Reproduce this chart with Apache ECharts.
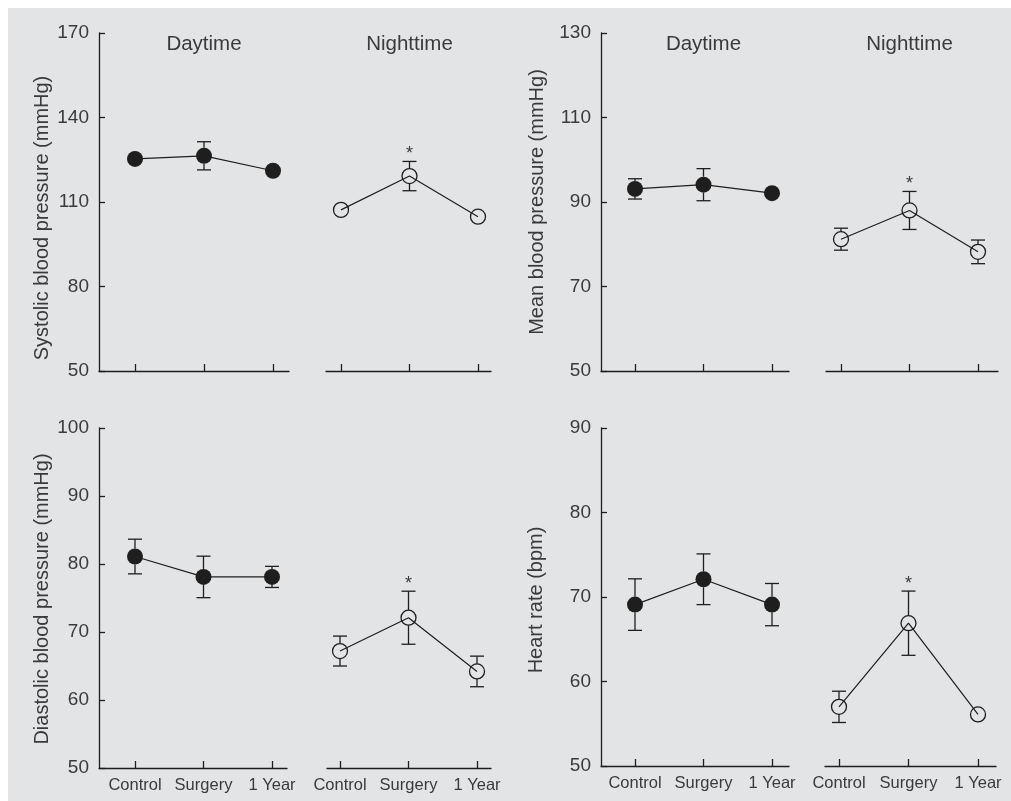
<!DOCTYPE html>
<html>
<head>
<meta charset="utf-8">
<script src="https://cdn.jsdelivr.net/npm/echarts@6/dist/echarts.min.js"></script>
<style>
html,body{margin:0;padding:0;background:#fff;}
#chart{width:1011px;height:801px;}
</style>
</head>
<body>
<div id="chart"></div>
<script>
// ---------------- DATA ----------------
const categories = ['Control', 'Surgery', '1 Year'];
const periodTitles = ['Daytime', 'Nighttime'];

const sysTicks = [50, 80, 110, 140, 170];
const sysDayMean = [125.3, 126.4, 121.1];
const sysDaySem = [1.5, 5.0, 1.5];
const sysNightMean = [107.2, 119.2, 104.8];
const sysNightSem = [1.5, 5.2, 1.5];

const meanTicks = [50, 70, 90, 110, 130];
const mapDayMean = [93.1, 94.1, 92.1];
const mapDaySem = [2.4, 3.8, 1.0];
const mapNightMean = [81.2, 88.0, 78.2];
const mapNightSem = [2.6, 4.5, 2.8];

const diaTicks = [50, 60, 70, 80, 90, 100];
const diaDayMean = [81.1, 78.1, 78.1];
const diaDaySem = [2.55, 3.05, 1.55];
const diaNightMean = [67.2, 72.1, 64.2];
const diaNightSem = [2.2, 3.9, 2.25];

const hrTicks = [50, 60, 70, 80, 90];
const hrDayMean = [69.1, 72.1, 69.1];
const hrDaySem = [3.05, 3.0, 2.5];
const hrNightMean = [57.0, 66.9, 56.1];
const hrNightSem = [1.85, 3.8, 0.7];

// significance marks (asterisk) at nighttime
const nightSig = [0, 1, 0];

const yNames = [
  'Systolic blood pressure (mmHg)',
  'Mean blood pressure (mmHg)',
  'Diastolic blood pressure (mmHg)',
  'Heart rate (bpm)'
];

// ---------------- LAYOUT ----------------
const FONT = '"Liberation Sans", Arial, Helvetica, sans-serif';
const TEXT = '#3a3a3a';
const INK = '#1e1e1e';
const BG = '#e3e4e6';

const panels = [
  {ticks: sysTicks, day: [sysDayMean, sysDaySem], night: [sysNightMean, sysNightSem],
   top: 33, bottom: 371, dayX: [99, 289, 135, 273], nightX: [326, 491, 341, 478], nameX: 42, nameY: 218, titles: true, labels: false},
  {ticks: meanTicks, day: [mapDayMean, mapDaySem], night: [mapNightMean, mapNightSem],
   top: 33, bottom: 371, dayX: [601, 789, 635, 772], nightX: [826, 998, 841, 978], nameX: 537, nameY: 202, titles: true, labels: false},
  {ticks: diaTicks, day: [diaDayMean, diaDaySem], night: [diaNightMean, diaNightSem],
   top: 428, bottom: 768, dayX: [99, 287, 135, 272], nightX: [327, 491, 340, 477], nameX: 42, nameY: 599, titles: false, labels: true},
  {ticks: hrTicks, day: [hrDayMean, hrDaySem], night: [hrNightMean, hrNightSem],
   top: 428, bottom: 766, dayX: [601, 789, 635, 772], nightX: [825, 996, 839, 978], nameX: 536, nameY: 600, titles: false, labels: true}
];

const grids = [], xAxes = [], yAxes = [], series = [], graphics = [];

graphics.push({type: 'rect', shape: {x: 0, y: 0, width: 1011, height: 8}, style: {fill: '#fff'}});
graphics.push({type: 'rect', shape: {x: 0, y: 0, width: 8, height: 801}, style: {fill: '#fff'}});

const R_FILLED = 8, R_OPEN = 7.5, CAP = 7;

function errRender(radius) {
  return function (params, api) {
    const x = api.value(0), m = api.value(1), e = api.value(2), sig = api.value(3);
    const c = api.coord([x, m]);
    const hi = api.coord([x, m + e]);
    const lo = api.coord([x, m - e]);
    const st = {stroke: INK, lineWidth: 1.3, fill: null};
    const ch = [];
    if (c[1] - hi[1] > radius) {
      ch.push({type: 'line', shape: {x1: c[0], y1: hi[1], x2: c[0], y2: c[1] - radius}, style: st});
      ch.push({type: 'line', shape: {x1: c[0] - CAP, y1: hi[1], x2: c[0] + CAP, y2: hi[1]}, style: st});
    }
    if (lo[1] - c[1] > radius) {
      ch.push({type: 'line', shape: {x1: c[0], y1: c[1] + radius, x2: c[0], y2: lo[1]}, style: st});
      ch.push({type: 'line', shape: {x1: c[0] - CAP, y1: lo[1], x2: c[0] + CAP, y2: lo[1]}, style: st});
    }
    if (sig) {
      const topY = Math.min(hi[1], c[1] - radius);
      ch.push({type: 'text', x: c[0], y: topY - 7,
        style: {text: '*', align: 'center', verticalAlign: 'middle', font: '18px ' + FONT, fill: TEXT}});
    }
    return {type: 'group', children: ch};
  };
}

panels.forEach((p, pi) => {
  const yMin = p.ticks[0], yMax = p.ticks[p.ticks.length - 1];
  const yInt = p.ticks[1] - p.ticks[0];
  [['day', p.dayX], ['night', p.nightX]].forEach(([kind, X], k) => {
    const gi = grids.length;
    const [x0, x1, t0, t2] = X;
    const sp = (t2 - t0) / 2;
    grids.push({left: x0, top: p.top, width: x1 - x0, height: p.bottom - p.top});
    xAxes.push({
      type: 'value', gridIndex: gi,
      min: -(t0 - x0) / sp, max: 2 + (x1 - t2) / sp,
      axisLine: {show: true, onZero: false, lineStyle: {color: INK, width: 1.3}},
      axisTick: {show: true, inside: true, length: 7, customValues: [0, 1, 2], lineStyle: {color: INK, width: 1.3}},
      axisLabel: {show: p.labels, customValues: [0, 1, 2], formatter: v => categories[Math.round(v)] || '',
        fontFamily: FONT, fontSize: 16.5, color: TEXT, margin: 9},
      splitLine: {show: false}
    });
    yAxes.push({
      type: 'value', gridIndex: gi, show: k === 0,
      min: yMin, max: yMax, interval: yInt,
      axisLine: {show: true, onZero: false, lineStyle: {color: INK, width: 1.3}},
      axisTick: {show: true, inside: true, length: 6, lineStyle: {color: INK, width: 1.3}},
      axisLabel: {fontFamily: FONT, fontSize: 19, color: TEXT, margin: 10},
      splitLine: {show: false}
    });
    const [mean, sem] = p[kind];
    const filled = kind === 'day';
    const radius = filled ? R_FILLED : R_OPEN;
    series.push({
      type: 'custom', xAxisIndex: gi, yAxisIndex: gi, z: 1,
      renderItem: errRender(radius),
      data: mean.map((m, i) => [i, m, sem[i], filled ? 0 : nightSig[i]]),
      silent: true, clip: false
    });
    series.push({
      type: 'line', xAxisIndex: gi, yAxisIndex: gi, z: 3,
      data: mean.map((m, i) => [i, m]),
      symbol: 'circle', symbolSize: radius * 2,
      showAllSymbol: true,
      lineStyle: {color: INK, width: 1.2},
      itemStyle: filled ? {color: INK, borderWidth: 0} : {color: 'rgba(0,0,0,0)', borderColor: INK, borderWidth: 1.3},
      emphasis: {disabled: true}, silent: true, animation: false
    });
    if (p.titles) {
      graphics.push({type: 'text', x: (t0 + t2) / 2, y: 44,
        style: {text: periodTitles[k], align: 'center', verticalAlign: 'middle', font: '20.5px ' + FONT, fill: TEXT}});
    }
  });
  graphics.push({type: 'text', x: p.nameX, y: p.nameY, rotation: Math.PI / 2,
    style: {text: yNames[pi], align: 'center', verticalAlign: 'middle', font: '20px ' + FONT, fill: TEXT}});
});

const chart = echarts.init(document.getElementById('chart'), null, {renderer: 'canvas'});
chart.setOption({
  backgroundColor: BG,
  animation: false,
  grid: grids,
  xAxis: xAxes,
  yAxis: yAxes,
  series: series,
  graphic: graphics
});
</script>
</body>
</html>
